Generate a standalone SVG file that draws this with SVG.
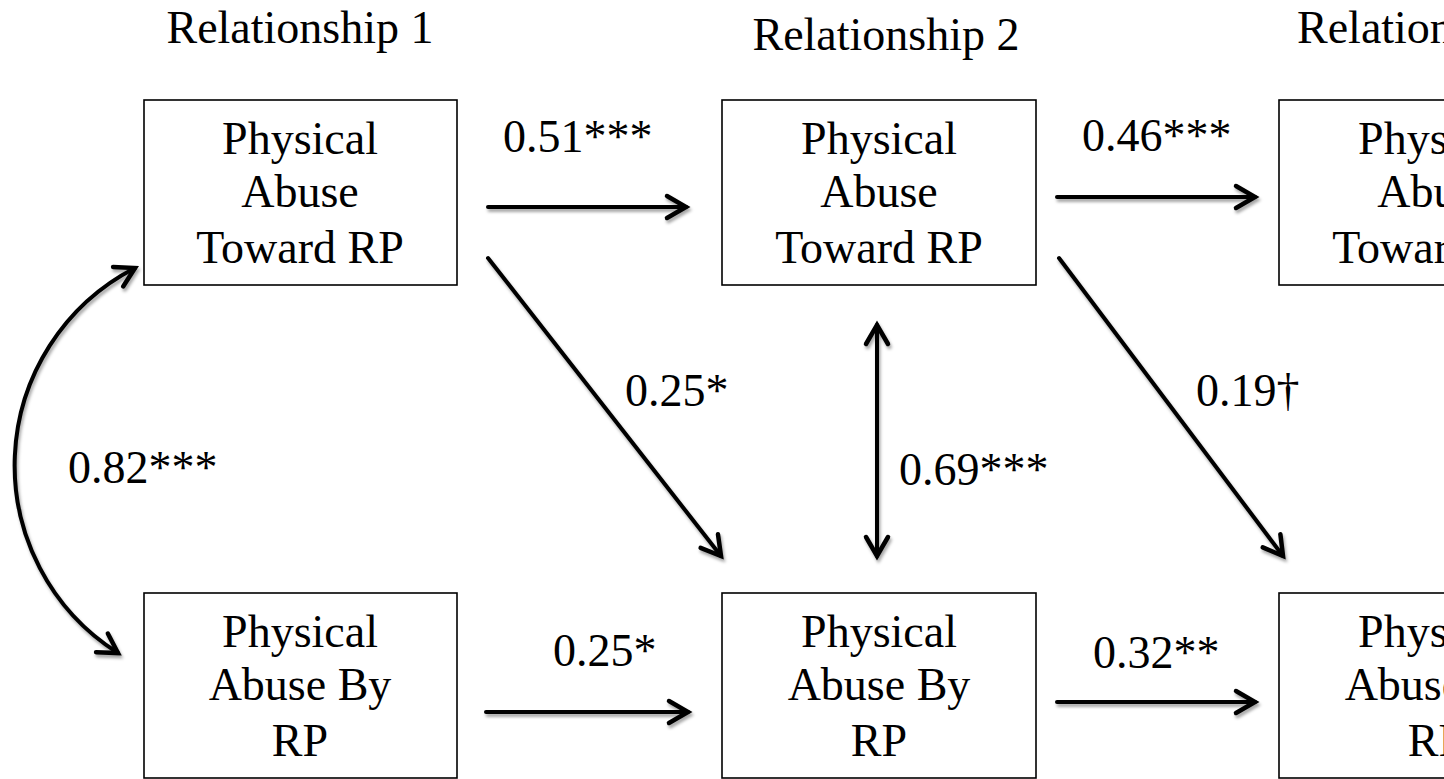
<svg xmlns="http://www.w3.org/2000/svg" width="1444" height="779" viewBox="0 0 1444 779">
<style>
text{font-family:"Liberation Serif","Times New Roman",serif;font-size:46px;fill:#000}
.c{text-anchor:middle}
.box{fill:#fff;stroke:#000;stroke-width:1.6}
.ln{fill:none;stroke:#000;stroke-width:4;stroke-linecap:round;marker-end:url(#ah)}
.dbl{marker-start:url(#ah)}
</style>
<defs>
<marker id="ah" markerUnits="userSpaceOnUse" markerWidth="40" markerHeight="40" viewBox="-30 -20 40 40" refX="0" refY="0" orient="auto-start-reverse">
<path d="M-19,-11 L0,0 L-19,11" fill="none" stroke="#000" stroke-width="4.5" stroke-linecap="round" stroke-linejoin="miter"/>
</marker>
<filter id="sh" x="-20%" y="-20%" width="140%" height="140%">
<feDropShadow dx="1.5" dy="3" stdDeviation="1.8" flood-color="#000" flood-opacity="0.35"/>
</filter>
</defs>
<rect width="1444" height="779" fill="#fff"/>
<g id="headers">
<text class="c" x="300" y="43">Relationship 1</text>
<text class="c" x="886" y="50">Relationship 2</text>
<text x="1297" y="43">Relationship 3</text>
</g>
<g id="n1">
<rect class="box" x="144" y="100" width="313" height="185"/>
<text class="c" x="300" y="154">Physical</text>
<text class="c" x="300" y="207">Abuse</text>
<text class="c" x="300" y="263">Toward RP</text>
</g>
<g id="n2">
<rect class="box" x="722" y="100" width="314" height="185"/>
<text class="c" x="879" y="154">Physical</text>
<text class="c" x="879" y="207">Abuse</text>
<text class="c" x="879" y="263">Toward RP</text>
</g>
<g id="n3">
<rect class="box" x="1279" y="100" width="314" height="185"/>
<text class="c" x="1436" y="154">Physical</text>
<text class="c" x="1436" y="207">Abuse</text>
<text class="c" x="1436" y="263">Toward RP</text>
</g>
<g id="n4">
<rect class="box" x="144" y="593" width="313" height="185"/>
<text class="c" x="300" y="647">Physical</text>
<text class="c" x="300" y="700">Abuse By</text>
<text class="c" x="300" y="756">RP</text>
</g>
<g id="n5">
<rect class="box" x="722" y="593" width="314" height="185"/>
<text class="c" x="879" y="647">Physical</text>
<text class="c" x="879" y="700">Abuse By</text>
<text class="c" x="879" y="756">RP</text>
</g>
<g id="n6">
<rect class="box" x="1279" y="593" width="314" height="185"/>
<text class="c" x="1436" y="647">Physical</text>
<text class="c" x="1436" y="700">Abuse By</text>
<text class="c" x="1436" y="756">RP</text>
</g>
<g id="connectors" filter="url(#sh)">
<line class="ln" x1="488" y1="207" x2="686" y2="207"/>
<line class="ln" x1="1057" y1="197" x2="1255" y2="197"/>
<line class="ln" x1="488" y1="258" x2="721" y2="556"/>
<line class="ln" x1="1059" y1="258" x2="1283" y2="556"/>
<line class="ln dbl" x1="877" y1="325" x2="877" y2="556"/>
<line class="ln" x1="486" y1="712" x2="688" y2="712"/>
<line class="ln" x1="1057" y1="702" x2="1255" y2="702"/>
<path class="ln dbl" d="M135,268 A222,222 0 0 0 118,653"/>
</g>
<g id="labels">
<text x="503" y="152">0.51***</text>
<text x="1082" y="151">0.46***</text>
<text x="625" y="406">0.25*</text>
<text x="1196" y="406">0.19†</text>
<text x="899" y="485">0.69***</text>
<text x="68" y="483">0.82***</text>
<text x="553" y="666">0.25*</text>
<text x="1093" y="668">0.32**</text>
</g>
</svg>
